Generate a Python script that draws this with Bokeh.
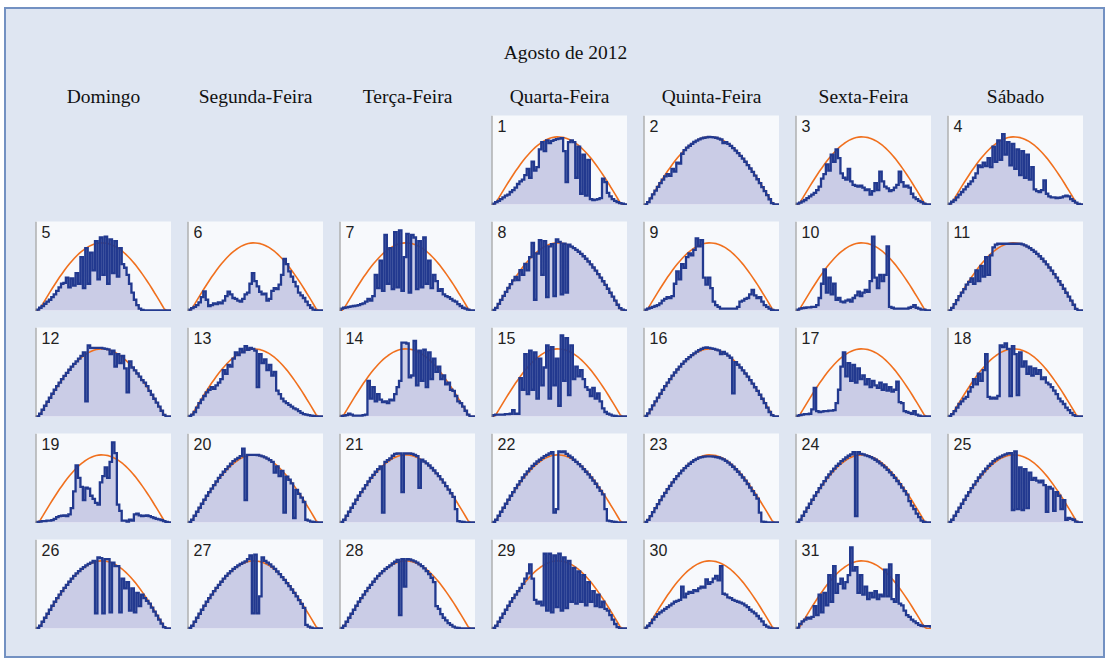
from bokeh.plotting import figure
from bokeh.models import Range1d, Span, Label, Spacer, ColumnDataSource
from bokeh.layouts import column, row
from bokeh.embed import file_html
from bokeh.resources import INLINE
from bokeh.core.properties import value

# ---------------- data ----------------
TITLE = "Agosto de 2012"
DAY_NAMES = ["Domingo", "Segunda-Feira", "Terça-Feira", "Quarta-Feira",
             "Quinta-Feira", "Sexta-Feira", "Sábado"]
FIRST_WEEKDAY = 3  # 1 de agosto de 2012 = quarta-feira

HOURS = [5.0, 5.25, 5.5, 5.75, 6.0, 6.25, 6.5, 6.75, 7.0, 7.25,
         7.5, 7.75, 8.0, 8.25, 8.5, 8.75, 9.0, 9.25, 9.5, 9.75,
         10.0, 10.25, 10.5, 10.75, 11.0, 11.25, 11.5, 11.75, 12.0, 12.25,
         12.5, 12.75, 13.0, 13.25, 13.5, 13.75, 14.0, 14.25, 14.5, 14.75,
         15.0, 15.25, 15.5, 15.75, 16.0, 16.25, 16.5, 16.75, 17.0, 17.25,
         17.5, 17.75, 18.0, 18.25, 18.5, 18.75, 19.0]

CLEAR_SKY = [0, 0, 28, 73, 119, 164, 208, 252, 295, 337,
             378, 416, 454, 490, 524, 556, 586, 615, 641, 664,
             685, 704, 720, 733, 744, 752, 757, 760, 759, 756,
             751, 742, 731, 717, 701, 681, 660, 636, 609, 581,
             550, 518, 483, 447, 408, 369, 328, 287, 244, 199,
             155, 110, 64, 18, 0, 0, 0]

IRR_01 = [0, 10, 25, 40, 60, 80, 100, 110, 140, 160,
          190, 230, 260, 280, 330, 400, 300, 480, 380, 420,
          620, 700, 600, 720, 690, 715, 725, 735, 740, 745,
          600, 250, 700, 720, 700, 300, 650, 120, 560, 100,
          500, 60, 50, 55, 60, 70, 290, 250, 130, 90,
          60, 40, 25, 15, 8, 0, 0]
IRR_02 = [0, 0, 25, 68, 112, 155, 198, 240, 280, 315,
          340, 320, 400, 370, 470, 460, 570, 610, 638, 660,
          682, 702, 718, 731, 742, 750, 755, 758, 757, 755,
          750, 741, 730, 690, 700, 680, 658, 634, 606, 578,
          546, 514, 480, 443, 404, 365, 324, 283, 240, 195,
          150, 105, 58, 15, 0, 0, 0]
IRR_03 = [0, 10, 20, 35, 50, 70, 90, 110, 130, 160,
          200, 290, 340, 450, 380, 560, 480, 620, 520, 350,
          300, 280, 400, 260, 220, 210, 200, 210, 190, 160,
          170, 110, 150, 240, 160, 370, 260, 200, 180, 150,
          160, 190, 220, 370, 250, 200, 210, 190, 120, 80,
          60, 40, 25, 10, 0, 0, 0]
IRR_04 = [0, 10, 30, 50, 80, 110, 140, 170, 200, 230,
          260, 300, 350, 440, 420, 470, 430, 520, 420, 650,
          480, 720, 500, 790, 560, 700, 440, 680, 400, 620,
          330, 600, 300, 560, 280, 420, 170, 150, 140, 160,
          270, 120, 90, 80, 80, 70, 75, 80, 90, 100,
          90, 60, 40, 20, 5, 0, 0]
IRR_05 = [0, 10, 30, 50, 75, 100, 120, 150, 180, 220,
          260, 300, 310, 370, 260, 360, 280, 420, 300, 600,
          250, 700, 300, 650, 450, 780, 350, 820, 400, 830,
          300, 800, 420, 780, 380, 700, 520, 480, 400, 300,
          200, 120, 60, 20, 5, 0, 0, 0, 0, 0,
          0, 0, 0, 0, 0, 0, 0]
IRR_06 = [0, 10, 25, 40, 60, 90, 150, 215, 120, 50,
          60, 80, 70, 90, 80, 110, 160, 210, 180, 140,
          130, 110, 100, 130, 180, 200, 300, 420, 330, 270,
          210, 180, 190, 110, 130, 220, 250, 240, 290, 400,
          580, 520, 440, 380, 320, 270, 200, 170, 140, 100,
          60, 30, 10, 0, 0, 0, 0]
IRR_07 = [0, 20, 30, 35, 40, 45, 50, 55, 60, 70,
          80, 100, 130, 110, 160, 400, 250, 560, 220, 850,
          300, 700, 240, 880, 260, 900, 220, 600, 860, 200,
          850, 820, 240, 780, 260, 820, 300, 560, 250, 400,
          330, 220, 240, 180, 160, 150, 130, 110, 100, 70,
          50, 30, 20, 10, 0, 0, 0]
IRR_08 = [0, 5, 28, 73, 119, 164, 208, 252, 295, 337,
          378, 340, 454, 400, 524, 450, 600, 760, 120, 640,
          790, 400, 780, 150, 720, 745, 160, 800, 770, 180,
          750, 200, 740, 717, 701, 681, 660, 636, 609, 581,
          550, 518, 483, 447, 408, 369, 328, 287, 244, 199,
          155, 110, 64, 25, 10, 0, 0]
IRR_09 = [0, 10, 20, 30, 40, 50, 60, 80, 110, 130,
          150, 140, 160, 300, 440, 350, 520, 480, 600, 640,
          620, 680, 810, 720, 790, 370, 290, 370, 250, 100,
          60, 40, 20, 20, 20, 20, 20, 20, 20, 40,
          100, 110, 130, 140, 180, 230, 170, 140, 150, 100,
          60, 40, 20, 5, 0, 0, 0]
IRR_10 = [0, 10, 20, 25, 30, 35, 35, 40, 40, 60,
          140, 300, 460, 200, 370, 180, 300, 120, 140, 100,
          90, 110, 120, 100, 140, 170, 210, 160, 200, 230,
          210, 330, 830, 370, 250, 400, 330, 400, 720, 40,
          30, 20, 20, 20, 20, 20, 20, 30, 40, 60,
          30, 20, 10, 10, 0, 0, 0]
IRR_11 = [0, 0, 28, 70, 115, 160, 200, 240, 290, 320,
          360, 300, 450, 330, 500, 380, 600, 400, 620, 710,
          740, 750, 750, 750, 750, 750, 750, 750, 750, 750,
          750, 742, 731, 717, 701, 681, 660, 636, 609, 581,
          550, 518, 483, 447, 408, 369, 328, 287, 244, 199,
          155, 110, 64, 18, 0, 0, 0]
IRR_12 = [0, 0, 30, 75, 120, 165, 210, 255, 300, 340,
          380, 420, 455, 490, 525, 560, 590, 620, 650, 680,
          720, 170, 800, 770, 770, 770, 770, 770, 765, 760,
          755, 700, 740, 560, 700, 600, 680, 540, 270, 620,
          550, 518, 483, 447, 408, 380, 340, 287, 244, 199,
          155, 110, 64, 18, 0, 0, 0]
IRR_13 = [0, 5, 20, 50, 100, 150, 190, 230, 270, 300,
          330, 310, 350, 380, 420, 520, 480, 580, 560, 650,
          720, 690, 760, 720, 790, 750, 770, 760, 740, 330,
          700, 600, 640, 520, 580, 460, 500, 290, 250, 200,
          170, 150, 130, 110, 90, 80, 60, 40, 25, 20,
          15, 10, 5, 0, 0, 0, 0]
IRR_14 = [0, 5, 10, 15, 30, 20, 10, 10, 10, 10,
          15, 20, 400, 200, 330, 170, 250, 190, 160, 170,
          150, 190, 180, 250, 330, 400, 830, 830, 820, 440,
          460, 850, 350, 740, 400, 750, 330, 720, 420, 650,
          500, 560, 420, 460, 360, 380, 300, 287, 230, 170,
          150, 110, 64, 20, 0, 0, 0]
IRR_15 = [0, 15, 20, 20, 20, 20, 25, 25, 30, 70,
          30, 30, 430, 300, 700, 250, 740, 300, 720, 200,
          650, 350, 550, 800, 200, 780, 350, 650, 120, 910,
          400, 880, 240, 800, 420, 560, 450, 520, 420, 330,
          300, 230, 320, 200, 260, 170, 90, 50, 30, 20,
          10, 5, 0, 0, 0, 0, 0]
IRR_16 = [0, 5, 35, 80, 125, 170, 212, 255, 298, 340,
          380, 420, 458, 494, 528, 560, 590, 618, 645, 668,
          690, 710, 728, 745, 760, 770, 775, 770, 765, 760,
          752, 742, 700, 725, 705, 684, 660, 260, 610, 581,
          550, 518, 483, 447, 408, 369, 328, 287, 244, 199,
          150, 100, 50, 15, 0, 0, 0]
IRR_17 = [0, 10, 15, 20, 25, 25, 30, 80, 320, 60,
          50, 55, 60, 60, 65, 65, 70, 150, 300, 560,
          720, 450, 600, 400, 580, 380, 540, 420, 460, 360,
          420, 330, 400, 350, 320, 380, 300, 360, 290, 330,
          280, 300, 390, 160, 150, 60, 50, 40, 30, 60,
          20, 10, 0, 0, 0, 0, 0]
IRR_18 = [0, 5, 25, 60, 100, 140, 170, 200, 220, 280,
          330, 420, 360, 480, 400, 520, 700, 220, 200, 210,
          200, 230, 800, 780, 820, 760, 230, 790, 700, 240,
          720, 560, 620, 480, 560, 460, 540, 480, 520, 420,
          440, 380, 360, 330, 290, 250, 200, 170, 140, 100,
          70, 40, 15, 0, 0, 0, 0]
IRR_19 = [0, 5, 10, 15, 15, 20, 20, 25, 40, 60,
          70, 75, 80, 70, 90, 160, 350, 640, 500, 400,
          250, 390, 380, 300, 265, 220, 200, 450, 520, 620,
          500, 680, 900, 780, 200, 130, 20, 20, 10, 30,
          20, 90, 100, 80, 70, 75, 80, 70, 60, 50,
          40, 35, 25, 15, 5, 0, 0]
IRR_20 = [0, 5, 30, 75, 120, 165, 210, 255, 300, 340,
          380, 420, 460, 500, 535, 570, 600, 630, 660, 690,
          710, 725, 745, 830, 250, 760, 760, 760, 760, 758,
          752, 743, 732, 717, 700, 680, 560, 630, 520, 580,
          110, 515, 480, 440, 50, 365, 320, 280, 230, 30,
          20, 10, 5, 0, 0, 0, 0]
IRR_21 = [0, 5, 30, 75, 120, 165, 210, 255, 300, 340,
          380, 420, 460, 500, 535, 570, 600, 630, 110, 680,
          700, 720, 750, 770, 775, 775, 340, 775, 775, 775,
          770, 760, 745, 390, 705, 685, 665, 640, 612, 584,
          552, 520, 485, 448, 408, 369, 328, 287, 150, 15,
          10, 5, 0, 0, 0, 0, 0]
IRR_22 = [0, 5, 30, 75, 120, 165, 210, 255, 300, 340,
          385, 425, 465, 505, 540, 575, 605, 635, 660, 685,
          705, 725, 745, 760, 775, 790, 110, 150, 800, 790,
          800, 770, 750, 730, 705, 680, 655, 630, 600, 570,
          540, 505, 470, 435, 395, 355, 315, 150, 20, 15,
          10, 5, 0, 0, 0, 0, 0]
IRR_23 = [0, 5, 28, 70, 115, 160, 205, 250, 292, 333,
          374, 412, 450, 486, 520, 552, 582, 610, 636, 660,
          681, 700, 715, 728, 735, 740, 742, 742, 742, 740,
          735, 730, 720, 708, 692, 672, 650, 626, 598, 570,
          538, 505, 470, 432, 392, 352, 310, 268, 110, 10,
          5, 0, 0, 0, 0, 0, 0]
IRR_24 = [0, 5, 30, 75, 120, 165, 210, 255, 300, 340,
          385, 425, 465, 505, 540, 575, 605, 635, 660, 690,
          710, 730, 750, 765, 790, 70, 790, 770, 765, 755,
          745, 735, 720, 705, 685, 665, 642, 618, 590, 562,
          532, 500, 466, 430, 392, 352, 312, 240, 190, 150,
          100, 60, 20, 5, 0, 0, 0]
IRR_25 = [0, 5, 30, 75, 120, 165, 210, 255, 300, 340,
          385, 425, 465, 505, 540, 575, 605, 635, 660, 690,
          710, 725, 740, 755, 765, 775, 780, 140, 800, 150,
          620, 140, 600, 160, 560, 480, 500, 470, 450, 470,
          420, 120, 400, 380, 130, 340, 300, 150, 250, 30,
          50, 40, 30, 10, 0, 0, 0]
IRR_26 = [0, 5, 30, 75, 120, 165, 210, 255, 300, 340,
          380, 420, 455, 490, 525, 560, 590, 620, 645, 670,
          690, 710, 725, 740, 760, 170, 800, 790, 170, 780,
          780, 180, 740, 700, 700, 180, 560, 450, 520, 200,
          450, 180, 400, 250, 380, 340, 310, 280, 235, 190,
          145, 100, 55, 15, 0, 0, 0]
IRR_27 = [0, 5, 30, 75, 120, 165, 210, 255, 300, 340,
          380, 420, 455, 490, 525, 560, 590, 620, 645, 670,
          690, 710, 725, 740, 755, 780, 820, 170, 830, 170,
          360, 800, 760, 740, 720, 695, 670, 640, 610, 578,
          545, 510, 475, 438, 400, 360, 318, 276, 232, 40,
          20, 10, 0, 0, 0, 0, 0]
IRR_28 = [0, 5, 30, 75, 120, 165, 210, 255, 300, 340,
          380, 420, 455, 490, 525, 560, 590, 620, 645, 670,
          690, 710, 730, 750, 770, 150, 780, 470, 780, 775,
          765, 755, 740, 720, 700, 675, 645, 610, 570, 520,
          250, 220, 160, 120, 90, 60, 40, 20, 10, 5,
          0, 0, 0, 0, 0, 0, 0]
IRR_29 = [0, 5, 30, 75, 120, 165, 210, 255, 300, 340,
          380, 420, 455, 500, 560, 620, 720, 560, 320, 280,
          300, 260, 840, 200, 840, 180, 820, 240, 840, 200,
          800, 230, 760, 300, 680, 280, 640, 300, 600, 260,
          520, 300, 420, 250, 380, 240, 300, 220, 200, 150,
          100, 50, 15, 0, 0, 0, 0]
IRR_30 = [0, 10, 30, 60, 100, 130, 160, 180, 200, 220,
          240, 260, 280, 300, 310, 320, 470, 350, 390, 410,
          400, 430, 420, 450, 470, 460, 550, 500, 520, 560,
          590, 540, 700, 390, 380, 350, 340, 320, 310, 300,
          290, 280, 260, 240, 210, 190, 170, 140, 110, 80,
          40, 20, 10, 0, 0, 0, 0]
IRR_31 = [0, 10, 50, 80, 100, 120, 110, 130, 250, 150,
          380, 180, 400, 260, 600, 300, 700, 400, 500, 560,
          450, 520, 600, 910, 650, 690, 400, 600, 380, 470,
          330, 400, 350, 420, 330, 380, 360, 660, 360, 720,
          330, 300, 600, 280, 260, 200, 150, 130, 100, 80,
          60, 40, 30, 25, 25, 25, 20]

DAILY = [IRR_01, IRR_02, IRR_03, IRR_04, IRR_05, IRR_06, IRR_07, IRR_08,
         IRR_09, IRR_10, IRR_11, IRR_12, IRR_13, IRR_14, IRR_15, IRR_16,
         IRR_17, IRR_18, IRR_19, IRR_20, IRR_21, IRR_22, IRR_23, IRR_24,
         IRR_25, IRR_26, IRR_27, IRR_28, IRR_29, IRR_30, IRR_31]

bad = [(n, len(s)) for n, s in enumerate(DAILY, 1) if len(s) != len(HOURS)]
if bad or len(CLEAR_SKY) != len(HOURS):
    raise ValueError(f"length mismatch: {bad} clear={len(CLEAR_SKY)}")

# ---------------- style ----------------
PANEL_BG = "#dfe6f2"
CELL_BG = "#f7f9fc"
BLUE = "#22398f"
FILL = "#cacce6"
ORANGE = "#f0701e"
CELL_W, CELL_H, GAP = 136, 90, 16
LEFT_PAD, BOTTOM_PAD = 29, 27
HEAD_W, HEAD_H = 1097, 106
Y_MIN, Y_MAX = -12, 1000


def day_fig(day, vals):
    src = ColumnDataSource(dict(h=HOURS, clear=CLEAR_SKY, irr=vals))
    p = figure(width=CELL_W, height=CELL_H,
               x_range=Range1d(HOURS[0], HOURS[-1]), y_range=Range1d(Y_MIN, Y_MAX),
               output_backend="svg", toolbar_location=None, min_border=0,
               x_axis_location=None, y_axis_location=None,
               background_fill_color=CELL_BG, border_fill_color=PANEL_BG,
               outline_line_color=None)
    p.grid.visible = False
    p.varea_step(x="h", y1=0, y2="irr", step_mode="center", source=src,
                 fill_color=FILL, fill_alpha=1.0)
    p.line("h", "clear", source=src, line_color=ORANGE, line_width=1.6)
    p.step("h", "irr", mode="center", source=src, line_color=BLUE,
           line_width=2.3, line_join="miter")
    p.add_layout(Span(location=HOURS[0], dimension="height",
                      line_color="#8c8c8c", line_width=2))
    p.add_layout(Label(x=6, y=CELL_H - 4, x_units="screen", y_units="screen",
                       text=str(day), text_font="Liberation Sans",
                       text_font_size="16px", text_baseline="top",
                       text_color="#222222"))
    return p


# header with title and weekday names, positioned on a column-index scale
pitch = CELL_W + GAP
first_center = LEFT_PAD + CELL_W / 2
head = figure(width=HEAD_W, height=HEAD_H,
              x_range=Range1d(-first_center / pitch, (HEAD_W - first_center) / pitch),
              y_range=Range1d(0, HEAD_H),
              output_backend="svg", toolbar_location=None, min_border=0,
              x_axis_location=None, y_axis_location=None,
              background_fill_color=PANEL_BG, border_fill_color=PANEL_BG,
              outline_line_color=None)
head.grid.visible = False
head.text(x=list(range(len(DAY_NAMES))), y=[HEAD_H - 87] * len(DAY_NAMES),
          text=DAY_NAMES, text_font=value("Liberation Serif"),
          text_font_size="19.5px", text_align="center", text_baseline="middle",
          text_color="#111111")
head.text(x=[3], y=[HEAD_H - 43], text=[TITLE], x_offset=6,
          text_font=value("Liberation Serif"), text_font_size="19.5px",
          text_align="center", text_baseline="middle", text_color="#111111")

cells = [None] * FIRST_WEEKDAY + [day_fig(d, v) for d, v in enumerate(DAILY, 1)]
while len(cells) % 7:
    cells.append(None)

rows = []
for r in range(0, len(cells), 7):
    items = [c if c is not None else Spacer(width=CELL_W, height=CELL_H)
             for c in cells[r:r + 7]]
    rows.append(row(items, spacing=GAP))

grid = column(rows, spacing=GAP, margin=(0, 0, BOTTOM_PAD, LEFT_PAD))
root = column(head, grid, margin=(9, 0, 0, 6),
              styles={"background-color": PANEL_BG,
                      "outline": "2px solid #7391c2"})

open("out.html", "w").write(file_html(root, INLINE, title=TITLE))
